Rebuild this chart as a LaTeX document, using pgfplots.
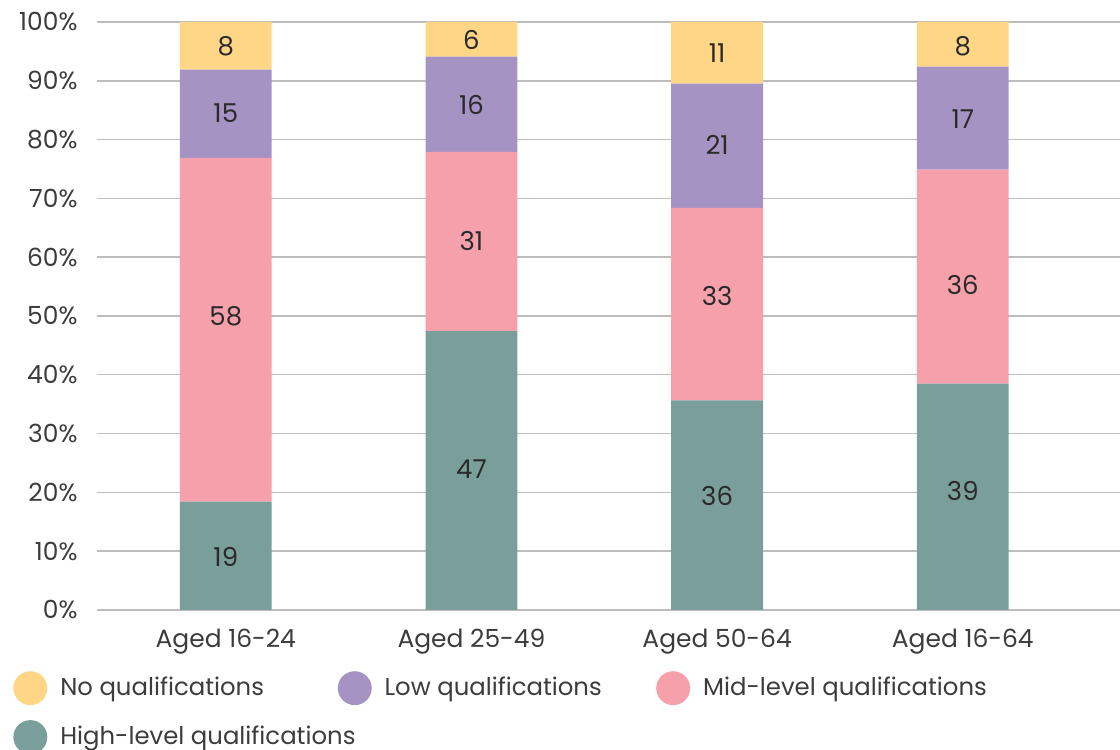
\documentclass[border=0pt]{standalone}
\usepackage{pgfplots}
\pgfplotsset{compat=1.18}
\usepackage{pgfplotstable}
\usetikzlibrary{calc}
\usepackage{fontspec}
\setmainfont{Poppins}
\definecolor{cNo}{HTML}{FED685}
\definecolor{cLow}{HTML}{A593C4}
\definecolor{cMid}{HTML}{F5A0AA}
\definecolor{cHigh}{HTML}{7A9E99}
\definecolor{gridc}{HTML}{BDBDBD}
\definecolor{txt}{HTML}{3C3C3C}
\definecolor{lab}{HTML}{2A2A2A}
\pgfplotstableread{
x high mid low no
0 18.4 58.5 15.0 8.1
1 47.4 30.5 16.2 5.9
2 35.65 32.75 21.1 10.5
3 38.5 36.4 17.5 7.6
}\data
\pgfplotstableread{
x y lab
0 9.0 19
0 50.0 58
0 84.5 15
0 95.8 8
1 23.9 47
1 62.7 31
1 85.8 16
1 96.9 6
2 19.4 36
2 53.4 33
2 79.1 21
2 94.7 11
3 20.3 39
3 55.3 36
3 83.4 17
3 95.9 8
}\labels
\newcommand{\fs}{\fontsize{12.5}{15}\selectfont}
\newcommand{\fg}{\fontsize{12.2}{15}\selectfont}
\newcommand{\fl}{\fontsize{13}{15}\selectfont}
\pgfplotsset{common/.style={
 scale only axis, width=512.5pt, height=294.5pt,
 xmin=-0.525, xmax=3.64, ymin=0, ymax=100}}
\begin{document}
\begin{tikzpicture}
\begin{axis}[
 name=ax, common,
 ybar stacked, bar width=46pt,
 xtick={0,1,2,3}, xticklabels={Aged 16-24,Aged 25-49,Aged 50-64,Aged 16-64},
 ytick={0,10,...,100},
 /pgf/number format/assume math mode=true,
 yticklabel={\pgfmathprintnumber{\tick}\%},
 major tick length=0pt,
 axis line style={draw=none},
 ymajorgrids, grid style={gridc, line width=0.75pt},
 ticklabel style={font=\fs, text=txt, inner sep=0pt},
 yticklabel style={xshift=-9.5pt},
 xticklabel style={yshift=-9.5pt},
 legend columns=3,
 reverse legend,
 legend cell align=left,
 legend image code/.code={\fill[#1,draw=none] (8.5pt,0pt) circle (8.5pt);},
 legend style={draw=none, fill=none, at={(0,0)}, anchor=north west, xshift=-42pt, yshift=-30.5pt, font=\fg, text=txt, inner sep=0pt, row sep=7.5pt,
   /tikz/every odd column/.append style={column sep=4.5pt}},
]
\addplot[fill=cHigh, draw=none] table[x=x, y=high] {\data};
\addlegendentry{\makebox[137pt][l]{High-level qualifications}}
\addplot[fill=cMid, draw=none] table[x=x, y=mid] {\data};
\addlegendentry{Mid-level qualifications}
\addplot[fill=cLow, draw=none] table[x=x, y=low] {\data};
\addlegendentry{\makebox[134pt][l]{Low qualifications}}
\addplot[fill=cNo, draw=none] table[x=x, y=no] {\data};
\addlegendentry{\makebox[137pt][l]{No qualifications}}
\end{axis}
\begin{axis}[common, hide axis]
\addplot[draw=none, mark=none, point meta=explicit symbolic, nodes near coords,
  every node near coord/.style={anchor=center, font=\fl, text=lab}]
  table[x=x, y=y, meta=lab] {\labels};
\end{axis}
\pgfresetboundingbox
\path (ax.south west) ++(-48.5pt,-70pt) rectangle ($(ax.north east)+(0pt,11pt)$);
\end{tikzpicture}
\end{document}
